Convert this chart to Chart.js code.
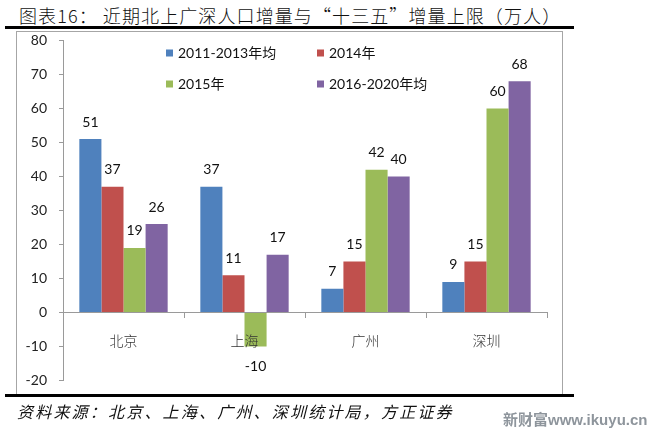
<!DOCTYPE html>
<html>
<head>
<meta charset="utf-8">
<script src="https://cdn.jsdelivr.net/npm/chart.js@4"></script>
<style>
  html,body{margin:0;padding:0;background:#fff;}
  body{width:660px;height:432px;position:relative;overflow:hidden;font-family:"Noto Sans CJK SC",sans-serif;}
  #titulo{position:absolute;left:19px;top:2px;font-size:18px;letter-spacing:1.1px;font-weight:300;color:#111;white-space:nowrap;}
  .linha{position:absolute;left:5px;width:569px;height:3px;background:#000;}
  #caixa{position:absolute;left:16px;top:31px;width:545px;height:363px;border:1px solid #a6a6a6;border-bottom:none;}
  #grafico{position:absolute;left:17px;top:20px;}
  #fonte{position:absolute;left:17px;top:399px;font-size:16px;letter-spacing:2.2px;font-style:italic;color:#111;white-space:nowrap;}
  #marca{position:absolute;left:503px;top:408px;font-family:"Liberation Sans",Arial,"Noto Sans CJK SC",sans-serif;font-weight:bold;font-size:15px;color:#8e959c;white-space:nowrap;}
</style>
</head>
<body>
<div id="titulo">图表16： 近期北上广深人口增量与“十三五”增量上限（万人）</div>
<div class="linha" style="top:26px"></div>
<div id="caixa"></div>
<canvas id="grafico" width="545" height="381"></canvas>
<div class="linha" style="top:394px"></div>
<div id="fonte">资料来源：北京、上海、广州、深圳统计局，方正证券</div>
<div id="marca">新财富www.ikuyu.cn</div>
<script>
// dados
const cidades = ['北京', '上海', '广州', '深圳'];
const series = ['2011-2013年均', '2014年', '2015年', '2016-2020年均'];
const media2011a2013 = [51, 37, 7, 9];
const ano2014 = [37, 11, 15, 15];
const ano2015 = [19, -10, 42, 60];
const media2016a2020 = [26, 17, 40, 68];
const yTicks = [-20, -10, 0, 10, 20, 30, 40, 50, 60, 70, 80];
const cores = ['#4f81bd', '#c0504d', '#9bbb59', '#8064a2'];

const fonteNum = "14px Lato, 'Noto Sans CJK SC', sans-serif";

// rótulos de valor acima/abaixo das barras
const rotulosPlugin = {
    id: 'rotulos',
    afterDatasetsDraw(chart){
        const ctx = chart.ctx;
        ctx.save();
        ctx.font = fonteNum;
        ctx.fillStyle = '#111';
        ctx.textAlign = 'center';
        ctx.textBaseline = 'middle';
        chart.data.datasets.forEach((ds, i) => {
            chart.getDatasetMeta(i).data.forEach((bar, j) => {
                const v = ds.data[j];
                const y = v >= 0 ? bar.y - 17 : bar.y + 20;
                ctx.fillText(String(v), bar.x, y);
            });
        });
        ctx.restore();
    }
};

// legenda em duas colunas, como no original
const legendaPlugin = {
    id: 'legenda2col',
    afterDraw(chart){
        const ctx = chart.ctx;
        const slots = [[149, 33], [300, 33], [149, 64], [300, 64]];
        ctx.save();
        ctx.font = fonteNum;
        ctx.textBaseline = 'middle';
        ctx.textAlign = 'left';
        chart.data.datasets.forEach((ds, i) => {
            const [x, y] = slots[i];
            ctx.fillStyle = ds.backgroundColor;
            ctx.fillRect(x, y - 3.5, 7, 7);
            ctx.fillStyle = '#111';
            ctx.fillText(ds.label, x + 12, y);
        });
        ctx.restore();
    }
};

const valores = [media2011a2013, ano2014, ano2015, media2016a2020];

new Chart(document.getElementById('grafico').getContext('2d'), {
    type: 'bar',
    data: {
        labels: cidades,
        datasets: series.map((nome, i) => ({
            label: nome,
            data: valores[i],
            backgroundColor: cores[i],
            borderWidth: 0,
            categoryPercentage: 0.73,
            barPercentage: 1
        }))
    },
    options: {
        responsive: false,
        animation: false,
        layout: {padding: {left: 0, right: 15, top: 9, bottom: 14}},
        plugins: {legend: {display: false}, tooltip: {enabled: false}},
        scales: {
            x: {
                position: {y: 0},
                offset: true,
                grid: {offset: true, drawOnChartArea: false, drawTicks: true, tickLength: 5, color: '#9a9a9a'},
                border: {display: true, color: '#9a9a9a'},
                // nomes das cidades por cima das barras, como no Excel
                ticks: {z: 1, padding: 15, color: '#333', font: {family: "'Noto Sans CJK SC'", size: 14, weight: '300'}}
            },
            y: {
                min: -20,
                max: 80,
                afterFit(s){ s.width = 46; },
                afterBuildTicks(s){ s.ticks = yTicks.map(v => ({value: v})); },
                grid: {drawOnChartArea: false, drawTicks: true, tickLength: 4, color: '#9a9a9a'},
                border: {display: true, color: '#9a9a9a'},
                ticks: {padding: 12, color: '#222', font: {family: 'Lato', size: 14}}
            }
        }
    },
    plugins: [rotulosPlugin, legendaPlugin]
});
</script>
</body>
</html>
